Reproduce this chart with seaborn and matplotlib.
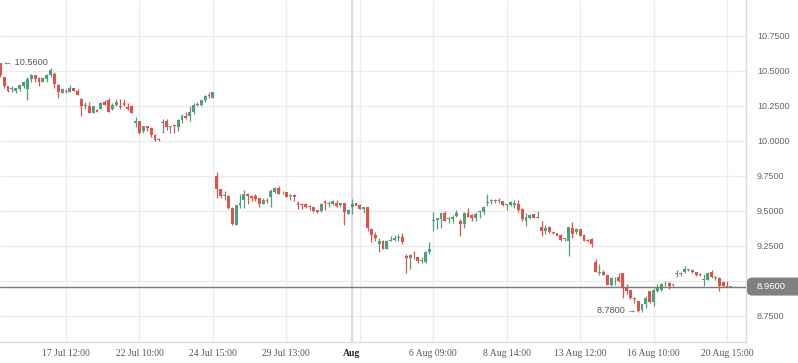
import numpy as np
import pandas as pd
import matplotlib
matplotlib.use("Agg")
import matplotlib.pyplot as plt
from matplotlib.patches import FancyBboxPatch
import matplotlib.transforms as mtransforms
import seaborn as sns

opens = [10.56, 10.46, 10.39, 10.37, 10.36, 10.37, 10.39, 10.37, 10.44, 10.47,
         10.45, 10.42, 10.44, 10.47, 10.48, 10.40, 10.34, 10.36, 10.35, 10.38,
         10.36, 10.30, 10.25, 10.25, 10.20, 10.22, 10.23, 10.28, 10.29, 10.23,
         10.26, 10.25, 10.27, 10.24, 10.25, 10.13, 10.14, 10.07, 10.11, 10.09,
         10.04, 10.01, 10.13, 10.14, 10.10, 10.113, 10.10, 10.15, 10.18, 10.18,
         10.21, 10.26, 10.26, 10.29, 10.33, 10.31, 9.75, 9.66, 9.61, 9.61,
         9.52, 9.40, 9.54, 9.58, 9.62, 9.61, 9.61, 9.59, 9.55, 9.575,
         9.60, 9.636, 9.665, 9.625, 9.636, 9.61, 9.615, 9.557, 9.547, 9.55,
         9.526, 9.526, 9.505, 9.50, 9.57, 9.553, 9.55, 9.56, 9.54, 9.555,
         9.48, 9.53, 9.555, 9.545, 9.514, 9.526, 9.374, 9.33, 9.264, 9.288,
         9.226, 9.288, 9.295, 9.31, 9.316, 9.18, 9.162, 9.18, 9.174, 9.14,
         9.135, 9.205, 9.428, 9.436, 9.443, 9.486, 9.44, 9.44, 9.467, 9.43,
         9.407, 9.486, 9.47, 9.452, 9.495, 9.495, 9.555, 9.57, 9.572, 9.572,
         9.574, 9.54, 9.543, 9.54, 9.55, 9.515, 9.43, 9.453, 9.476, 9.45,
         9.388, 9.36, 9.383, 9.345, 9.34, 9.33, 9.302, 9.288, 9.376, 9.352,
         9.37, 9.328, 9.29, 9.298, 9.135, 9.055, 9.067, 9.04, 8.97, 9.018,
         9.026, 9.057, 8.955, 8.935, 8.875, 8.858, 8.79, 8.834, 8.928, 8.85,
         8.93, 8.937, 8.982, 8.985, 8.97, 9.05, 9.05, 9.063, 9.077, 9.08,
         9.063, 9.047, 9.008, 9.01, 9.067, 9.02, 9.022, 8.99, 8.96, 8.96]
highs = [10.56, 10.46, 10.39, 10.39, 10.38, 10.40, 10.43, 10.46, 10.48, 10.47,
         10.46, 10.46, 10.48, 10.52, 10.49, 10.41, 10.38, 10.37, 10.40, 10.38,
         10.37, 10.31, 10.28, 10.28, 10.25, 10.23, 10.28, 10.29, 10.31, 10.27,
         10.30, 10.30, 10.30, 10.27, 10.26, 10.17, 10.14, 10.11, 10.11, 10.10,
         10.05, 10.02, 10.155, 10.155, 10.11, 10.12, 10.16, 10.19, 10.21, 10.25,
         10.27, 10.28, 10.29, 10.33, 10.35, 10.35, 9.78, 9.66, 9.645, 9.615,
         9.525, 9.54, 9.62, 9.65, 9.63, 9.615, 9.62, 9.595, 9.59, 9.59,
         9.66, 9.67, 9.675, 9.64, 9.636, 9.62, 9.62, 9.574, 9.56, 9.56,
         9.54, 9.526, 9.51, 9.555, 9.58, 9.57, 9.58, 9.58, 9.56, 9.56,
         9.515, 9.586, 9.56, 9.55, 9.526, 9.53, 9.38, 9.35, 9.31, 9.29,
         9.29, 9.32, 9.33, 9.335, 9.34, 9.19, 9.19, 9.214, 9.174, 9.17,
         9.214, 9.276, 9.49, 9.452, 9.486, 9.50, 9.455, 9.47, 9.51, 9.44,
         9.495, 9.52, 9.476, 9.49, 9.51, 9.538, 9.62, 9.585, 9.585, 9.59,
         9.574, 9.55, 9.574, 9.58, 9.58, 9.52, 9.486, 9.476, 9.48, 9.50,
         9.43, 9.40, 9.39, 9.352, 9.345, 9.338, 9.31, 9.388, 9.424, 9.38,
         9.37, 9.335, 9.30, 9.305, 9.16, 9.12, 9.075, 9.045, 9.03, 9.03,
         9.06, 9.057, 8.98, 8.935, 8.885, 8.858, 8.834, 8.895, 8.93, 8.95,
         8.98, 8.985, 9.0, 8.99, 8.975, 9.08, 9.065, 9.106, 9.087, 9.087,
         9.063, 9.058, 9.05, 9.063, 9.077, 9.034, 9.026, 8.995, 9.0, 8.962]
lows = [10.46, 10.38, 10.35, 10.35, 10.34, 10.36, 10.38, 10.29, 10.42, 10.42,
        10.39, 10.42, 10.42, 10.46, 10.38, 10.31, 10.34, 10.34, 10.35, 10.36,
        10.33, 10.18, 10.23, 10.20, 10.20, 10.21, 10.23, 10.26, 10.21, 10.22,
        10.25, 10.23, 10.25, 10.22, 10.20, 10.10, 10.05, 10.06, 10.07, 10.03,
        10.00, 10.00, 10.06, 10.08, 10.06, 10.06, 10.07, 10.13, 10.16, 10.14,
        10.19, 10.25, 10.25, 10.28, 10.31, 10.31, 9.59, 9.59, 9.58, 9.515,
        9.40, 9.40, 9.52, 9.52, 9.55, 9.57, 9.57, 9.53, 9.55, 9.56,
        9.53, 9.63, 9.62, 9.62, 9.60, 9.58, 9.57, 9.515, 9.515, 9.52,
        9.51, 9.49, 9.485, 9.49, 9.51, 9.53, 9.54, 9.53, 9.53, 9.40,
        9.48, 9.48, 9.54, 9.514, 9.483, 9.36, 9.28, 9.283, 9.21, 9.226,
        9.226, 9.285, 9.285, 9.285, 9.264, 9.06, 9.086, 9.16, 9.126, 9.126,
        9.126, 9.19, 9.36, 9.37, 9.38, 9.425, 9.415, 9.415, 9.455, 9.32,
        9.376, 9.455, 9.43, 9.426, 9.45, 9.48, 9.535, 9.55, 9.555, 9.555,
        9.538, 9.51, 9.533, 9.52, 9.49, 9.426, 9.39, 9.445, 9.452, 9.448,
        9.324, 9.336, 9.343, 9.336, 9.324, 9.288, 9.288, 9.18, 9.31, 9.336,
        9.32, 9.288, 9.276, 9.24, 9.063, 9.04, 9.04, 8.97, 8.965, 8.97,
        8.99, 8.875, 8.91, 8.87, 8.84, 8.78, 8.78, 8.81, 8.84, 8.82,
        8.92, 8.93, 8.966, 8.94, 8.965, 9.026, 9.033, 9.058, 9.068, 9.058,
        9.038, 9.034, 8.966, 9.01, 9.019, 9.01, 8.93, 8.955, 8.955, 8.958]
closes = [10.47, 10.39, 10.36, 10.37, 10.38, 10.40, 10.42, 10.44, 10.47, 10.44,
          10.42, 10.45, 10.47, 10.51, 10.41, 10.35, 10.37, 10.35, 10.38, 10.36,
          10.33, 10.25, 10.26, 10.20, 10.25, 10.21, 10.27, 10.26, 10.21, 10.26,
          10.28, 10.24, 10.26, 10.23, 10.20, 10.14, 10.06, 10.11, 10.09, 10.04,
          10.01, 10.01, 10.13, 10.10, 10.11, 10.108, 10.15, 10.18, 10.165, 10.21,
          10.26, 10.26, 10.29, 10.32, 10.32, 10.35, 9.66, 9.61, 9.61, 9.52,
          9.41, 9.54, 9.56, 9.62, 9.61, 9.59, 9.585, 9.55, 9.575, 9.57,
          9.645, 9.665, 9.62, 9.63, 9.60, 9.615, 9.60, 9.545, 9.543, 9.526,
          9.526, 9.50, 9.49, 9.55, 9.555, 9.557, 9.57, 9.535, 9.555, 9.49,
          9.507, 9.55, 9.538, 9.514, 9.526, 9.38, 9.33, 9.31, 9.288, 9.226,
          9.288, 9.288, 9.31, 9.313, 9.28, 9.164, 9.188, 9.175, 9.14, 9.145,
          9.21, 9.228, 9.435, 9.45, 9.486, 9.43, 9.443, 9.46, 9.483, 9.41,
          9.486, 9.46, 9.452, 9.479, 9.50, 9.53, 9.56, 9.57, 9.572, 9.572,
          9.543, 9.545, 9.567, 9.557, 9.51, 9.44, 9.455, 9.47, 9.452, 9.45,
          9.36, 9.38, 9.348, 9.34, 9.324, 9.295, 9.305, 9.388, 9.336, 9.37,
          9.324, 9.288, 9.285, 9.267, 9.063, 9.06, 9.04, 8.97, 9.02, 9.021,
          9.0, 8.955, 8.93, 8.875, 8.868, 8.787, 8.834, 8.875, 8.85, 8.937,
          8.95, 8.978, 8.985, 8.966, 8.97, 9.05, 9.05, 9.087, 9.079, 9.063,
          9.043, 9.043, 9.011, 9.058, 9.026, 9.023, 8.966, 8.966, 8.955, 8.96]

x_ticks = [17, 36, 55, 74, 91, 112, 131, 150, 169, 188]
x_labels = ["17 Jul 12:00", "22 Jul 10:00", "24 Jul 15:00", "29 Jul 13:00", "Aug",
            "6 Aug 09:00", "8 Aug 14:00", "13 Aug 12:00", "16 Aug 10:00", "20 Aug 15:00"]
y_ticks = [8.75, 9.0, 9.25, 9.5, 9.75, 10.0, 10.25, 10.5, 10.75]
last_price = 8.96
high_mark = 10.56
low_mark = 8.78

RED = "#e0524c"
GREEN = "#4f9f7a"
GRAY = "#808080"

df = pd.DataFrame({"open": opens, "high": highs, "low": lows, "close": closes})
df["idx"] = np.arange(len(df))
df["dir"] = np.where(df["close"] > df["open"], "up", np.where(df["close"] < df["open"], "down", "flat"))
palette = {"up": GREEN, "down": RED, "flat": GRAY}
df["color"] = df["dir"].map(palette)
df["body_lo"] = df[["open", "close"]].min(axis=1)
df["body_h"] = (df["open"] - df["close"]).abs().clip(lower=0.0065)

sns.set_style("white")
plt.rcParams["font.family"] = ["Liberation Sans", "DejaVu Sans"]

W, H = 798, 363
fig = plt.figure(figsize=(W / 100, H / 100), dpi=100)
ax = fig.add_axes([0, 21 / H, 746 / W, 342 / H])

# grid
for yv in y_ticks:
    ax.axhline(yv, color="#ececec", lw=1, zorder=0)
for xv in x_ticks:
    ax.axvline(xv, color="#ececec", lw=1, zorder=0)
ax.axvline(91, color="#d6d6d6", lw=1.2, zorder=0)
ax.axvline(93, color="#ececec", lw=1, zorder=0)

# wicks and bodies
ax.vlines(df["idx"], df["low"], df["high"], colors=df["color"], lw=0.9, zorder=2)
ax.bar(df["idx"], df["body_h"], bottom=df["body_lo"], width=0.74,
       color=df["color"], linewidth=0, zorder=3)

# last price line
ax.axhline(last_price, color="#7a7a7a", lw=1, zorder=4)

ax.set_xlim(-0.08, 192.9)
ax.set_ylim(8.564, 11.007)

ax.set_xticks(x_ticks)
ax.set_xticklabels(x_labels)
for lab in ax.get_xticklabels():
    lab.set_family(["Liberation Serif", "DejaVu Serif"])
    lab.set_fontsize(6.9)
    if lab.get_text() == "Aug":
        lab.set_fontweight("bold")
        lab.set_color("#222222")
    else:
        lab.set_color("#555555")
ax.tick_params(axis="x", length=0, pad=5)

ax.yaxis.tick_right()
ax.set_yticks(y_ticks)
ax.set_yticklabels(["" if abs(v - 9.0) < 1e-9 else f"{v:.4f}" for v in y_ticks])
ax.tick_params(axis="y", length=0, pad=8, labelsize=6.5, labelcolor="#666666")
ax.grid(False)

for s in ["top", "left"]:
    ax.spines[s].set_visible(False)
for s in ["right", "bottom"]:
    ax.spines[s].set_color("#dcdcdc")
    ax.spines[s].set_linewidth(1)

# high / low annotations
ax.text(0.62, high_mark, "← " + f"{high_mark:.4f}", ha="left", va="center",
        fontsize=6.6, color="#555555", zorder=5)
ax.text(164.6, low_mark + 0.008, f"{low_mark:.4f}" + " →", ha="right", va="center",
        fontsize=6.6, color="#555555", zorder=5)

# last price tag on the right axis
fig.canvas.draw()
ypix = ax.transData.transform((0, last_price))[1]
xpix = ax.transAxes.transform((1, 0))[0]
tag = FancyBboxPatch((xpix + 1, ypix - 9), W - xpix + 10, 18,
                     boxstyle="round,pad=0,rounding_size=5",
                     fc="#808080", ec="none", transform=None, zorder=10)
fig.patches.append(tag)
tag.set_figure(fig)
fig.text(757 / W, ypix / H, f"{last_price:.4f}", ha="left", va="center",
         fontsize=6.8, color="white", zorder=11)

fig.savefig("out.png", dpi=100)
